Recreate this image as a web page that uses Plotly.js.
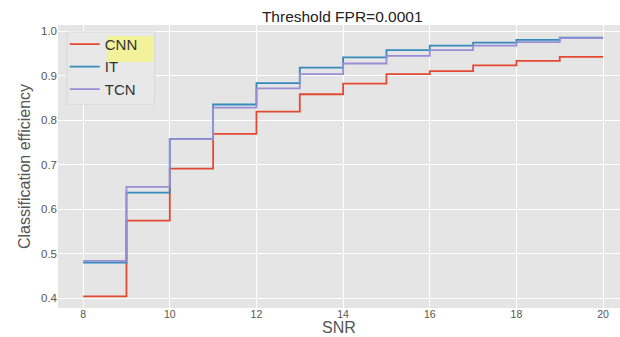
<!DOCTYPE html>
<html>
<head>
<meta charset="utf-8">
<script src="https://cdn.plot.ly/plotly-3.0.1.min.js"></script>
<style>html,body{margin:0;padding:0;background:#fff}#chart{width:620px;height:337px}</style>
</head>
<body>
<div id="chart"></div>
<script>
const snr = [8, 9, 10, 11, 12, 13, 14, 15, 16, 17, 18, 19, 20];
const cnn = [0.404, 0.574, 0.691, 0.769, 0.819, 0.858, 0.882, 0.903, 0.910, 0.923, 0.933, 0.942, 0.942];
const it  = [0.480, 0.637, 0.758, 0.835, 0.883, 0.918, 0.941, 0.957, 0.967, 0.974, 0.980, 0.985, 0.985];
const tcn = [0.484, 0.650, 0.757, 0.828, 0.871, 0.903, 0.927, 0.944, 0.957, 0.967, 0.975, 0.984, 0.984];
const seriesNames = ["CNN", "IT", "TCN"];
const xTicks = [8, 10, 12, 14, 16, 18, 20];
const yTicks = [0.4, 0.5, 0.6, 0.7, 0.8, 0.9, 1.0];

const colors = ["#E24A33", "#348ABD", "#988ED5"];
const font = "Liberation Sans, Arial, sans-serif";
const traces = [cnn, it, tcn].map((ys, i) => ({
  x: snr, y: ys, name: seriesNames[i], type: "scatter", mode: "lines",
  line: {shape: "hv", color: colors[i], width: 1.8}
}));

const layout = {
  width: 620, height: 337,
  margin: {l: 58, r: 0, t: 25, b: 29},
  paper_bgcolor: "#ffffff",
  plot_bgcolor: "#E5E5E5",
  font: {family: font, color: "#555555"},
  title: {text: "Threshold FPR=0.0001", font: {family: font, size: 15.5, color: "#222"}, x: 0.552, xanchor: "center", y: 0.966, yanchor: "top"},
  xaxis: {
    range: [7.42, 20.39], tickvals: xTicks, ticktext: xTicks.map(String),
    showgrid: true, gridcolor: "#ffffff", gridwidth: 1, zeroline: false, showline: false,
    ticks: "", ticklabelstandoff: -2, tickfont: {size: 10.5, color: "#555"}
  },
  yaxis: {
    range: [0.378, 1.0135], tickvals: yTicks, ticktext: yTicks.map(v => v.toFixed(1)),
    showgrid: true, gridcolor: "#ffffff", gridwidth: 1, zeroline: false, showline: false,
    ticks: "", tickfont: {size: 11.5, color: "#555"},
    title: {text: "Classification efficiency", font: {size: 16, color: "#555"}, standoff: 6}
  },
  annotations: [
    {text: "SNR", xref: "paper", yref: "paper", x: 0.5, y: 0, xanchor: "center", yanchor: "bottom",
     yshift: -29, height: 16, valign: "bottom", borderpad: 0, showarrow: false, font: {size: 16, color: "#555"}}
  ],
  showlegend: true,
  legend: {
    x: 0.012, y: 0.99, xanchor: "left", yanchor: "top",
    bgcolor: "rgba(0,0,0,0)", borderwidth: 0,
    font: {size: 15, color: "#333"}
  },
  shapes: [
    {type: "rect", xref: "paper", yref: "paper", x0: 0.016, x1: 0.172, y0: 0.72, y1: 0.975,
     fillcolor: "#E8E8E8", line: {color: "#D8D8D8", width: 1}, layer: "above"},
    {type: "rect", xref: "paper", yref: "paper", x0: 0.087, x1: 0.169, y0: 0.869, y1: 0.961,
     fillcolor: "#F3F19A", line: {width: 0}, layer: "above"}
  ]
};

Plotly.newPlot("chart", traces, layout, {displayModeBar: false, staticPlot: true});
</script>
</body>
</html>
